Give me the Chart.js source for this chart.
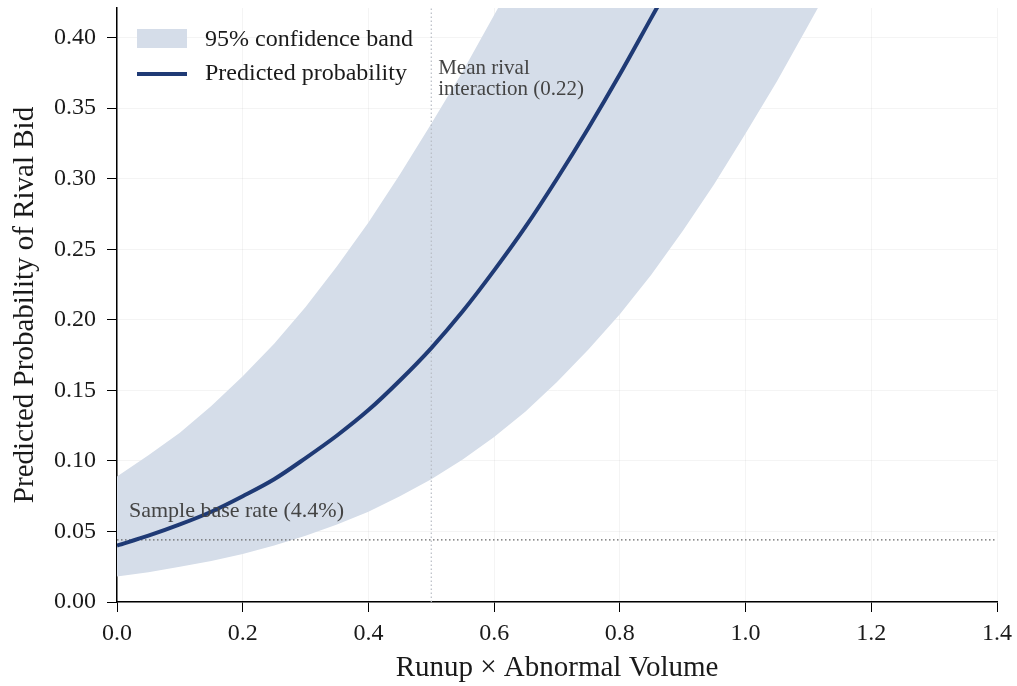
<!DOCTYPE html>
<html>
<head>
<meta charset="utf-8">
<script src="https://cdn.jsdelivr.net/npm/chart.js@4.4.0/dist/chart.umd.min.js"></script>
<style>
    html, body { margin: 0; padding: 0; background: #fff; }
    #wrap { width: 1017px; height: 686px; }
</style>
</head>
<body>
<div id="wrap"><canvas id="probChart" width="1017" height="686"></canvas></div>
<script>
// values
var xValues = [0.00, 0.05, 0.10, 0.15, 0.20, 0.25, 0.30, 0.35, 0.40, 0.45, 0.50, 0.55, 0.60,
    0.65, 0.70, 0.75, 0.80, 0.85, 0.90, 0.95, 1.00, 1.05, 1.10, 1.15, 1.20];
var predicted = [0.040, 0.047, 0.055, 0.064, 0.075, 0.087, 0.102, 0.118, 0.136, 0.157, 0.180, 0.206, 0.235,
    0.266, 0.300, 0.336, 0.374, 0.414, 0.454, 0.496, 0.537, 0.578, 0.618, 0.657, 0.693];
var lowerBand = [0.018, 0.021, 0.025, 0.029, 0.034, 0.040, 0.047, 0.055, 0.064, 0.075, 0.087, 0.101, 0.117,
    0.135, 0.156, 0.179, 0.204, 0.232, 0.263, 0.296, 0.332, 0.369, 0.409, 0.449, 0.490];
var upperBand = [0.089, 0.104, 0.120, 0.139, 0.160, 0.183, 0.209, 0.238, 0.269, 0.303, 0.339, 0.376, 0.416,
    0.456, 0.498, 0.539, 0.579, 0.619, 0.657, 0.693, 0.727, 0.759, 0.788, 0.814, 0.838];
var yTicks = [0.00, 0.05, 0.10, 0.15, 0.20, 0.25, 0.30, 0.35, 0.40];
var xTicks = [0.0, 0.2, 0.4, 0.6, 0.8, 1.0, 1.2, 1.4];
var baseRate = 0.044;
var meanLineX = 0.5;

const colors = {
    band: "#d5dde9",
    line: "#1f3a75",
    ref: "#666666",
    text: "#1a1a1a",
    note: "#444444",
    grid: "rgba(0,0,0,0.045)"
};

const serif = "'Liberation Serif', 'DejaVu Serif', serif";
Chart.defaults.font.family = serif;
Chart.defaults.color = colors.text;

function toPoints(xs, ys) {
    return xs.map((x, i) => ({ x: x, y: ys[i] }));
}

// legend + notes drawn in the plot area
const notesPlugin = {
    id: "notes",
    afterDatasetsDraw(chart) {
        let ctx = chart.ctx;
        let xs = chart.scales.x;
        let ys = chart.scales.y;
        ctx.save();

        ctx.fillStyle = colors.note;
        ctx.font = "22px " + serif;
        ctx.textBaseline = "middle";
        ctx.textAlign = "left";
        ctx.fillText("Sample base rate (4.4%)", xs.getPixelForValue(0.019), ys.getPixelForValue(0.064));
        ctx.font = "21px " + serif;
        ctx.fillText("Mean rival", xs.getPixelForValue(0.511), ys.getPixelForValue(0.378));
        ctx.fillText("interaction (0.22)", xs.getPixelForValue(0.511), ys.getPixelForValue(0.363));

        // legend
        ctx.fillStyle = colors.band;
        ctx.fillRect(137, 29, 50, 19);
        ctx.strokeStyle = colors.line;
        ctx.lineWidth = 4;
        ctx.beginPath();
        ctx.moveTo(137, 74);
        ctx.lineTo(187, 74);
        ctx.stroke();
        ctx.fillStyle = colors.text;
        ctx.font = "24px " + serif;
        ctx.fillText("95% confidence band", 205, 40);
        ctx.fillText("Predicted probability", 205, 74);
        ctx.restore();
    }
};

var probChart = new Chart(document.getElementById("probChart"), {
    type: "line",
    data: {
        datasets: [
            {
                label: "upper",
                data: toPoints(xValues, upperBand),
                borderWidth: 0,
                pointRadius: 0,
                backgroundColor: colors.band,
                fill: "+1",
                order: 3
            },
            {
                label: "95% confidence band",
                data: toPoints(xValues, lowerBand),
                borderWidth: 0,
                pointRadius: 0,
                fill: false,
                order: 3
            },
            {
                label: "base rate",
                data: [{ x: 0, y: baseRate }, { x: 1.4, y: baseRate }],
                borderColor: colors.ref,
                borderWidth: 1.2,
                borderDash: [1.5, 2.5],
                pointRadius: 0,
                order: 2
            },
            {
                label: "mean",
                data: [{ x: meanLineX, y: 0 }, { x: meanLineX, y: 0.421 }],
                borderColor: "#b8bcc4",
                borderWidth: 1.2,
                borderDash: [1.5, 2.5],
                pointRadius: 0,
                order: 2
            },
            {
                label: "Predicted probability",
                data: toPoints(xValues, predicted),
                borderColor: colors.line,
                borderWidth: 4,
                pointRadius: 0,
                cubicInterpolationMode: "monotone",
                fill: false,
                order: 1
            }
        ]
    },
    options: {
        responsive: false,
        animation: false,
        layout: { padding: { left: 0, top: 8, right: 20, bottom: 0 } },
        plugins: {
            legend: { display: false },
            tooltip: { enabled: false }
        },
        scales: {
            x: {
                type: "linear",
                min: 0,
                max: 1.4,
                afterBuildTicks: (scale) => { scale.ticks = xTicks.map(v => ({ value: v })); },
                afterFit: (scale) => {
                    scale.height = 84;
                    scale.paddingLeft = 0;
                    scale.paddingRight = 0;
                },
                border: { color: "#000", width: 1.5 },
                grid: { color: colors.grid, tickColor: "#000", tickLength: 10, drawTicks: true },
                ticks: {
                    padding: 7,
                    color: colors.text,
                    font: { size: 24 },
                    callback: (v) => v.toFixed(1)
                },
                title: {
                    display: true,
                    text: "Runup × Abnormal Volume",
                    color: colors.text,
                    font: { size: 29 },
                    padding: { top: 0, bottom: 0 }
                }
            },
            y: {
                type: "linear",
                min: 0,
                max: 0.421,
                afterBuildTicks: (scale) => { scale.ticks = yTicks.map(v => ({ value: v })); },
                afterFit: (scale) => {
                    scale.width = 117;
                    scale.paddingTop = 0;
                    scale.paddingBottom = 0;
                },
                border: { color: "#000", width: 1.5 },
                grid: { color: colors.grid, tickColor: "#000", tickLength: 10, drawTicks: true },
                ticks: {
                    padding: 11,
                    color: colors.text,
                    font: { size: 24 },
                    callback: (v) => v.toFixed(2)
                },
                title: {
                    display: true,
                    text: "Predicted Probability of Rival Bid",
                    color: colors.text,
                    font: { size: 29 },
                    padding: { top: 8, bottom: 0 }
                }
            }
        }
    },
    plugins: [notesPlugin]
});
</script>
</body>
</html>
